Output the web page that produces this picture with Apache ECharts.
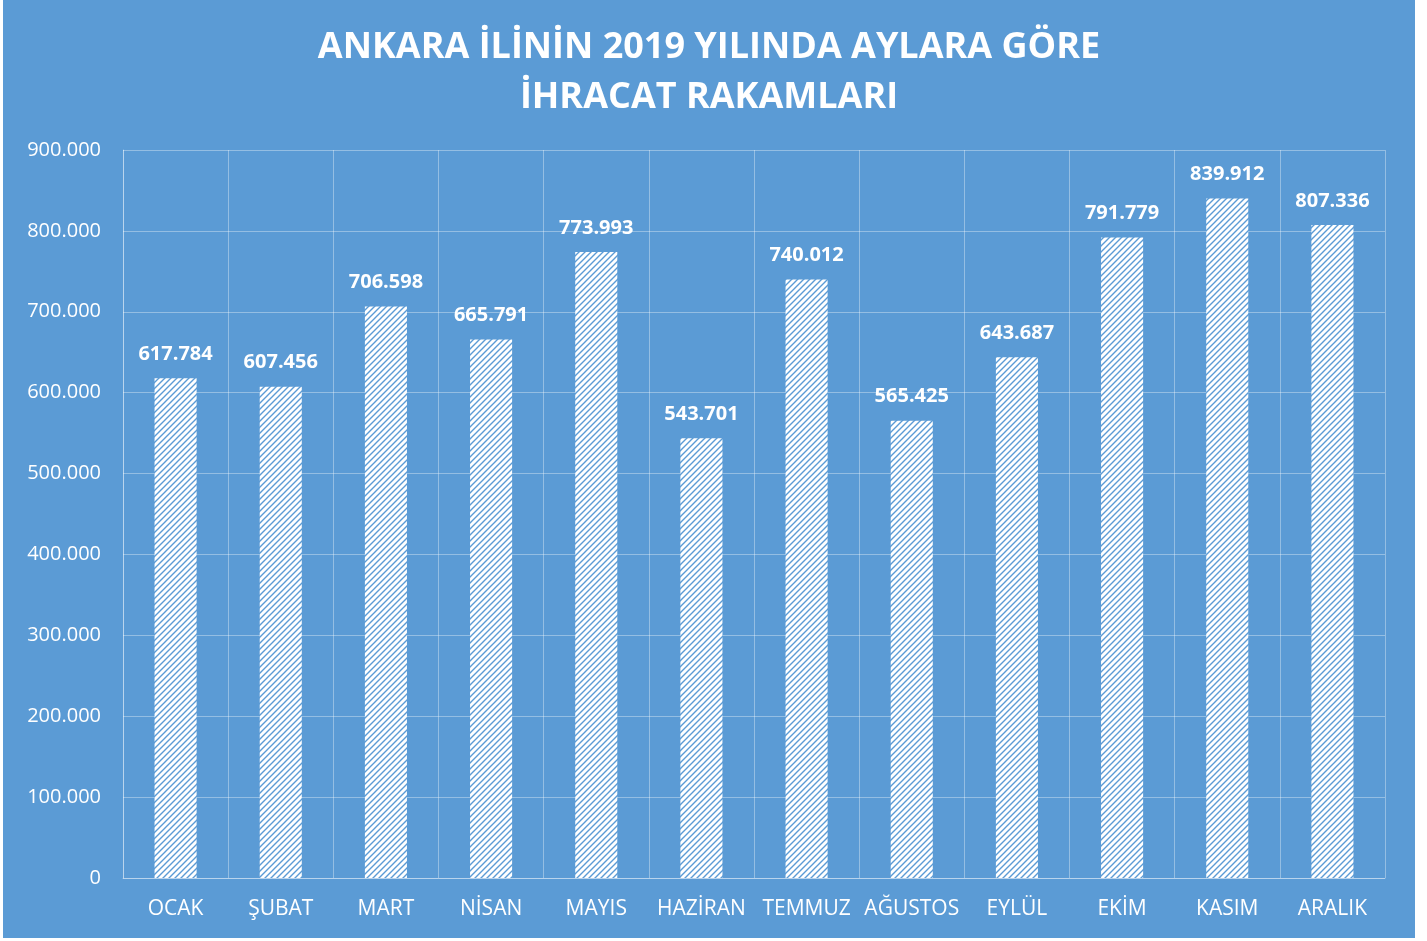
<!DOCTYPE html>
<html>
<head>
<meta charset="utf-8">
<script src="https://cdn.jsdelivr.net/npm/echarts@6/dist/echarts.min.js"></script>
<style>
  html, body { margin: 0; padding: 0; background: #ffffff; }
  #main { position: absolute; left: 3px; top: 0; width: 1412px; height: 938px; }
</style>
</head>
<body>
<div id="main"></div>
<script>
var months = ["OCAK", "ŞUBAT", "MART", "NİSAN", "MAYIS", "HAZİRAN", "TEMMUZ", "AĞUSTOS", "EYLÜL", "EKİM", "KASIM", "ARALIK"];
var exports2019 = [617784, 607456, 706598, 665791, 773993, 543701, 740012, 565425, 643687, 791779, 839912, 807336];
var titleLines = ["ANKARA İLİNİN 2019 YILINDA AYLARA GÖRE", "İHRACAT RAKAMLARI"];

function trNumber(v) {
  return String(Math.round(v)).replace(/\B(?=(\d{3})+(?!\d))/g, ".");
}

// hatch pattern: white with thin blue upward diagonals
var tile = document.createElement("canvas");
tile.width = 6;
tile.height = 6;
var ctx = tile.getContext("2d");
ctx.fillStyle = "#ffffff";
ctx.fillRect(0, 0, 6, 6);
ctx.strokeStyle = "#5b9bd5";
ctx.lineWidth = 1.4;
ctx.beginPath();
ctx.moveTo(-1, 7); ctx.lineTo(7, -1);
ctx.moveTo(-4, 4); ctx.lineTo(4, -4);
ctx.moveTo(2, 10); ctx.lineTo(10, 2);
ctx.stroke();

var chart = echarts.init(document.getElementById("main"));
var font = "'Open Sans', 'Noto Sans', sans-serif";
var gridColor = "rgba(255,255,255,0.35)";

var option = {
  backgroundColor: "#5b9bd5",
  textStyle: { fontFamily: font },
  title: {
    text: titleLines.join("\n"),
    left: "center",
    top: 18,
    textStyle: {
      color: "#ffffff",
      fontSize: 36,
      fontWeight: "bold",
      lineHeight: 50,
      fontFamily: font
    }
  },
  grid: { left: 120, right: 30, top: 150, bottom: 60, containLabel: false },
  xAxis: {
    type: "category",
    data: months,
    axisLine: { lineStyle: { color: gridColor } },
    axisTick: { show: false },
    splitLine: { show: true, lineStyle: { color: gridColor } },
    axisLabel: { color: "#ffffff", fontSize: 21, margin: 21, interval: 0 }
  },
  yAxis: {
    type: "value",
    min: 0,
    max: 900000,
    interval: 100000,
    axisLine: { show: true, lineStyle: { color: gridColor } },
    axisTick: { show: false },
    splitLine: { lineStyle: { color: gridColor } },
    axisLabel: { color: "#ffffff", fontSize: 20, margin: 22, formatter: trNumber }
  },
  series: [{
    type: "bar",
    data: exports2019,
    barWidth: "40%",
    itemStyle: { color: { image: tile, repeat: "repeat" } },
    label: {
      show: true,
      position: "top",
      distance: 14,
      color: "#ffffff",
      fontSize: 20,
      fontWeight: "bold",
      formatter: function (p) { return trNumber(p.value); }
    }
  }]
};

chart.setOption(option);
</script>
</body>
</html>
